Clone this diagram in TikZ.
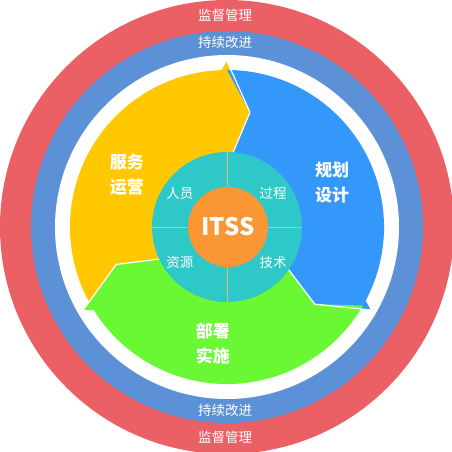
\documentclass[tikz,border=0pt]{standalone}
\usepackage{fontspec}
\newfontfamily\cjk{Noto Sans CJK SC}
\definecolor{ringred}{RGB}{234,96,100}
\definecolor{ringblue}{RGB}{92,145,215}
\definecolor{segyellow}{RGB}{255,200,0}
\definecolor{segblue}{RGB}{52,152,250}
\definecolor{seggreen}{RGB}{106,248,52}
\definecolor{coreteal}{RGB}{46,200,200}
\definecolor{coreorange}{RGB}{250,150,52}
\definecolor{crossline}{RGB}{215,190,120}
\tikzset{
  ringtext/.style={text=white,font=\cjk\fontsize{13.5}{14}\selectfont,inner sep=0pt},
  segtext/.style={text=white,font=\cjk\bfseries\fontsize{17}{25}\selectfont,align=center,inner sep=0pt},
  coretext/.style={text=white,font=\cjk\fontsize{13.5}{14}\selectfont,inner sep=0pt},
  sep/.style={white,line width=1.2pt,line join=round},
}
\newcommand{\segpath}[1]{%
  (#1:60) -- ({#1-11.3}:117) -- (#1:166) -- ({#1+2}:157)
  arc[start angle={#1+2}, end angle={#1+120}, radius=157]
  -- ({#1+108.7}:117) -- ({#1+120}:60) -- (0,0) -- cycle}
\begin{document}
\begin{tikzpicture}[x=1pt,y=1pt]
\useasboundingbox (-227,-225) rectangle (225,227);
\clip (-227,-225) rectangle (225,227);
\fill[white] (-227,-225) rectangle (225,227);
% rings
\fill[ringred] (0,0) circle[radius=227];
\fill[ringblue] (0,0) circle[radius=196];
\fill[white] (0,0) circle[radius=172];
% segments
\fill[segyellow] \segpath{90};
\fill[segblue] \segpath{-30};
\fill[seggreen] \segpath{210};
\foreach \a in {90,-30,210}{
  \draw[sep] (\a:60) -- ({\a-11.3}:117) -- (\a:166);
}
% core
\node[circle,fill=coreteal,minimum size=150pt,inner sep=0pt] (core) at (0,0) {};
\foreach \a in {0,90,180,270}{
  \draw[crossline,line width=0.7pt] (\a:40) -- (\a:75);
}
\node[circle,fill=coreorange,minimum size=80pt,inner sep=0pt,text=white,font=\cjk\bfseries\fontsize{24}{24}\selectfont] (itss) at (1,0) {ITSS};
\node[coretext] (renyuan) at (-47,34) {人员};
\node[coretext] (guocheng) at (46,34) {过程};
\node[coretext] (ziyuan) at (-47,-35) {资源};
\node[coretext] (jishu) at (46,-35) {技术};
% segment labels
\node[segtext] (fuwu) at (-100,52) {服务\\运营};
\node[segtext] (guihua) at (105,44) {规划\\设计};
\node[segtext] (bushu) at (-14,-116) {部署\\实施};
% ring labels
\node[ringtext] (jd1) at (-2,212) {监督管理};
\node[ringtext] (cx1) at (-2,185) {持续改进};
\node[ringtext] (cx2) at (-2,-183) {持续改进};
\node[ringtext] (jd2) at (-2,-210) {监督管理};
\end{tikzpicture}
\end{document}
